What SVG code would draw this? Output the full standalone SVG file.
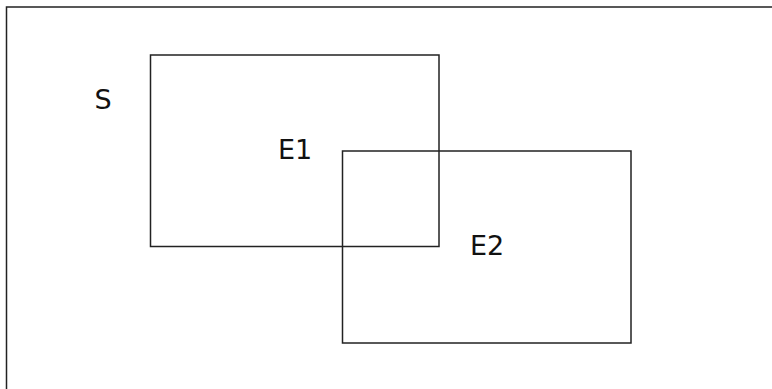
<svg xmlns="http://www.w3.org/2000/svg" width="772" height="389" viewBox="0 0 772 389">
  <style>
    .box { fill: none; stroke: #222; stroke-width: 1.5; }
    .lbl { font-family: "DejaVu Sans", "Liberation Sans", sans-serif; font-size: 27px; fill: #111; }
  </style>
  <rect width="772" height="389" fill="#fff"/>
  <g id="S">
    <rect class="box" x="6.5" y="7" width="780" height="400"/>
    <text class="lbl" x="94.5" y="108.5">S</text>
  </g>
  <g id="E1">
    <rect class="box" x="150.5" y="55" width="288.5" height="191.5"/>
    <text class="lbl" x="278" y="158.5">E1</text>
  </g>
  <g id="E2">
    <rect class="box" x="342.5" y="151" width="288.5" height="192"/>
    <text class="lbl" x="470" y="254.5">E2</text>
  </g>
  <g id="connectors"/>
</svg>
